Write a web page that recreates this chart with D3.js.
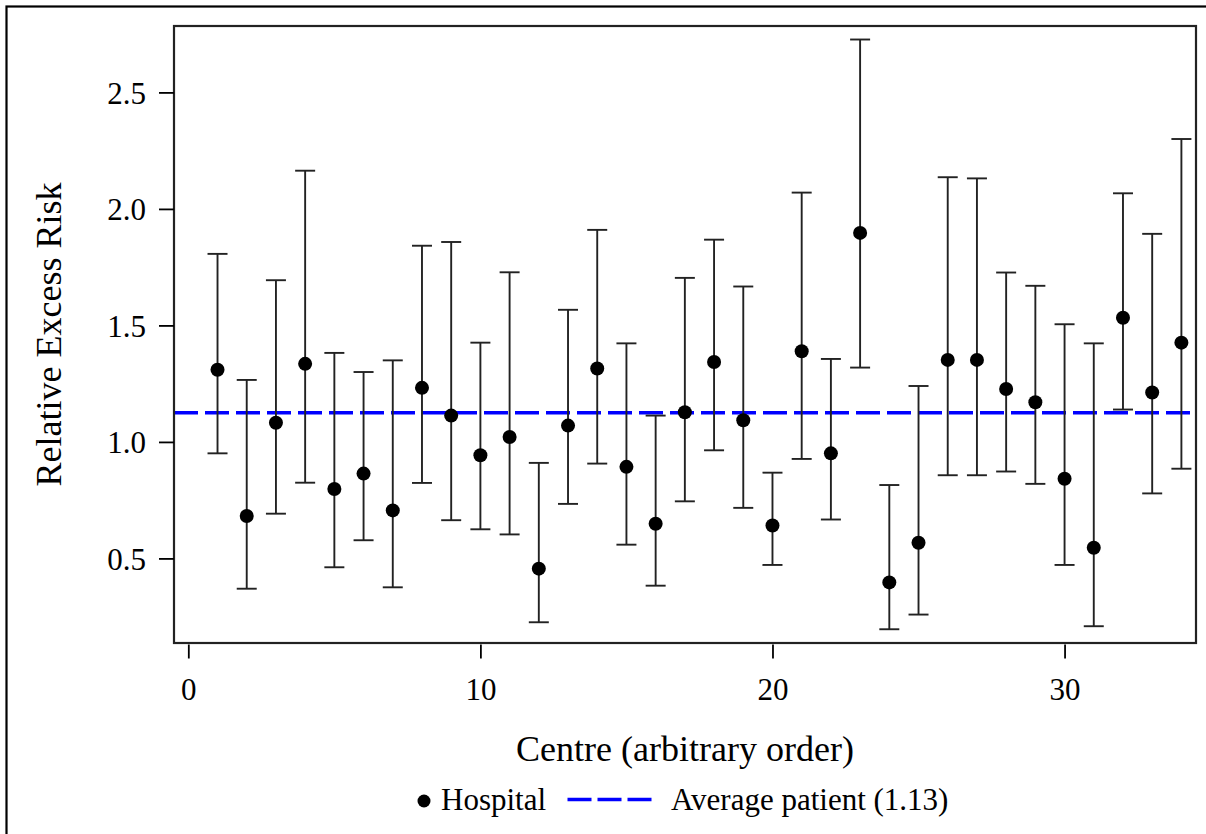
<!DOCTYPE html>
<html>
<head>
<meta charset="utf-8">
<script src="https://cdn.jsdelivr.net/npm/d3@7"></script>
<style>
  html, body { margin: 0; padding: 0; background: #fff; }
  svg { display: block; }
  text { font-family: "Liberation Serif", "Times New Roman", serif; fill: #000; }
</style>
</head>
<body>
<svg id="chart" width="1206" height="834"></svg>
<script>
// ---- Data ----
const centres = [1,2,3,4,5,6,7,8,9,10,11,12,13,14,15,16,17,18,19,20,21,22,23,24,25,26,27,28,29,30,31,32,33,34];
const estimate = [1.310,0.682,1.082,1.335,0.798,0.864,0.706,1.232,1.113,0.943,1.021,0.456,1.070,1.315,0.893,0.649,1.127,1.343,1.093,0.641,1.389,0.951,1.897,0.397,0.567,1.352,1.352,1.227,1.170,0.842,0.546,1.533,1.212,1.426];
const upper =    [1.807,1.266,1.694,2.164,1.382,1.300,1.350,1.842,1.858,1.426,1.728,0.910,1.567,1.910,1.423,1.113,1.704,1.868,1.667,0.868,2.070,1.356,2.727,0.815,1.240,2.136,2.131,1.727,1.670,1.505,1.423,2.067,1.893,2.300];
const lower =    [0.951,0.370,0.692,0.825,0.462,0.578,0.376,0.824,0.664,0.625,0.603,0.226,0.734,0.907,0.559,0.383,0.745,0.964,0.717,0.472,0.927,0.667,1.319,0.196,0.259,0.857,0.857,0.873,0.820,0.472,0.209,1.139,0.779,0.885];
const averagePatient = 1.125;
const averageLabel = "1.13";
const xTicks = [0, 10, 20, 30];
const yTicks = [0.5, 1.0, 1.5, 2.0, 2.5];
const xTitle = "Centre (arbitrary order)";
const yTitle = "Relative Excess Risk";
const legendLabels = ["Hospital", "Average patient (" + averageLabel + ")"];

// ---- Layout ----
const W = 1206, H = 834;
const plot = { left: 174, top: 26, right: 1196, bottom: 643 };
const FONT = "'Liberation Serif', 'Times New Roman', serif";
const svg = d3.select("#chart");

const x = d3.scaleLinear().domain([-0.49, 34.5]).range([plot.left, plot.right]);
const y = d3.scaleLinear().domain([0.137, 2.785]).range([plot.bottom, plot.top]);

// outer border
svg.append("rect")
  .attr("x", 6.5).attr("y", 6.5)
  .attr("width", W).attr("height", H)
  .attr("fill", "none").attr("stroke", "#000").attr("stroke-width", 2.2);

// average line
svg.append("line")
  .attr("x1", plot.left).attr("x2", plot.right)
  .attr("y1", y(averagePatient)).attr("y2", y(averagePatient))
  .attr("stroke", "#0000ff").attr("stroke-width", 3.6)
  .attr("stroke-dasharray", "24,7");

// error bars
const data = centres.map((c, i) => ({ c, est: estimate[i], lo: lower[i], hi: upper[i] }));
const g = svg.append("g");
const capW = 10;
const sw = 1.9;
const bars = g.selectAll("g.bar").data(data).enter().append("g").attr("class", "bar");
bars.append("line")
  .attr("x1", d => x(d.c)).attr("x2", d => x(d.c))
  .attr("y1", d => y(d.lo)).attr("y2", d => y(d.hi))
  .attr("stroke", "#222").attr("stroke-width", sw);
bars.append("line")
  .attr("x1", d => x(d.c) - capW).attr("x2", d => x(d.c) + capW)
  .attr("y1", d => y(d.hi)).attr("y2", d => y(d.hi))
  .attr("stroke", "#222").attr("stroke-width", sw);
bars.append("line")
  .attr("x1", d => x(d.c) - capW).attr("x2", d => x(d.c) + capW)
  .attr("y1", d => y(d.lo)).attr("y2", d => y(d.lo))
  .attr("stroke", "#222").attr("stroke-width", sw);
bars.append("circle")
  .attr("cx", d => x(d.c)).attr("cy", d => y(d.est))
  .attr("r", 7).attr("fill", "#000");

// plot frame
svg.append("rect")
  .attr("x", plot.left).attr("y", plot.top)
  .attr("width", plot.right - plot.left).attr("height", plot.bottom - plot.top)
  .attr("fill", "none").attr("stroke", "#222").attr("stroke-width", 2.2);

// x axis
const xAxis = svg.append("g")
  .attr("transform", `translate(0,${plot.bottom + 1.5})`)
  .call(d3.axisBottom(x).tickValues(xTicks).tickSize(14).tickFormat(d3.format("d")));
xAxis.attr("font-family", null).attr("font-size", null);
xAxis.select(".domain").remove();
xAxis.selectAll(".tick line").attr("stroke", "#000").attr("stroke-width", 1.8);
xAxis.selectAll(".tick text")
  .attr("y", 55).attr("dy", null)
  .style("font-family", FONT)
  .style("font-size", "31px").attr("fill", "#000");

// y axis
const yAxis = svg.append("g")
  .attr("transform", `translate(${plot.left},0)`)
  .call(d3.axisLeft(y).tickValues(yTicks).tickSize(15).tickFormat(d3.format(".1f")));
yAxis.attr("font-family", null).attr("font-size", null);
yAxis.select(".domain").remove();
yAxis.selectAll(".tick line").attr("stroke", "#000").attr("stroke-width", 1.8);
yAxis.selectAll(".tick text")
  .attr("x", -28).attr("dy", "0.35em")
  .style("font-family", FONT)
  .style("font-size", "31px").attr("fill", "#000");

// axis titles
svg.append("text")
  .attr("x", (plot.left + plot.right) / 2).attr("y", 761)
  .attr("text-anchor", "middle")
  .style("font-family", FONT)
  .style("font-size", "36px")
  .text(xTitle);
svg.append("text")
  .attr("transform", `translate(61,${(plot.top + plot.bottom) / 2}) rotate(-90)`)
  .attr("text-anchor", "middle")
  .style("font-family", FONT)
  .style("font-size", "36px")
  .text(yTitle);

// legend
const lg = svg.append("g");
const legY = 810;
lg.append("circle").attr("cx", 424).attr("cy", 801).attr("r", 6.5).attr("fill", "#000");
lg.append("text").attr("x", 441).attr("y", legY).style("font-family", FONT).style("font-size", "31px").text(legendLabels[0]);
lg.append("line")
  .attr("x1", 567.5).attr("x2", 651.5).attr("y1", 799.5).attr("y2", 799.5)
  .attr("stroke", "#0000ff").attr("stroke-width", 3.6)
  .attr("stroke-dasharray", "24,6");
lg.append("text").attr("x", 671).attr("y", legY).style("font-family", FONT).style("font-size", "31px").text(legendLabels[1]);
</script>
</body>
</html>
